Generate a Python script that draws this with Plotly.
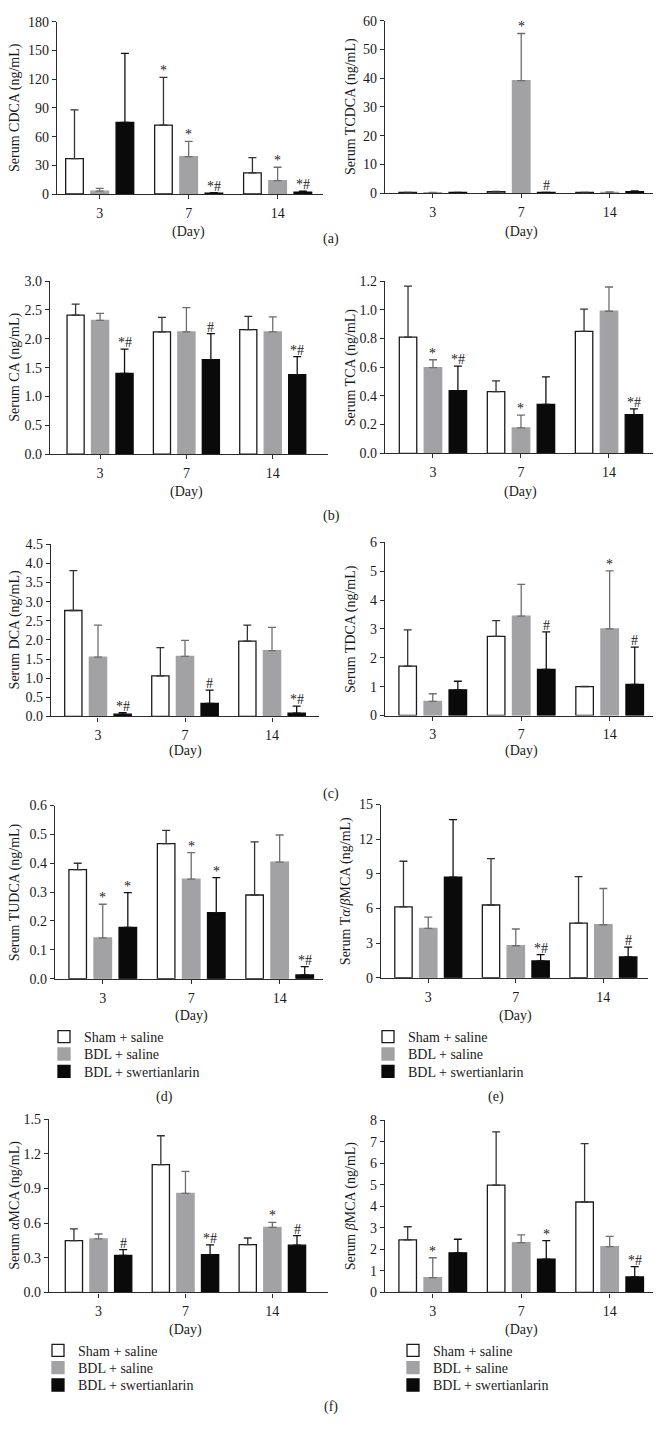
import plotly.graph_objects as go

W, H = 662, 1432

days = ["3", "7", "14"]
groups = ["Sham + saline", "BDL + saline", "BDL + swertianlarin"]

# ---- (a) CDCA ----
cdca_sham = [37, 72, 22];        cdca_sham_sd = [51, 50, 16]
cdca_bdl = [3, 39, 14];          cdca_bdl_sd = [3, 16, 14]
cdca_swe = [75, 1, 2];           cdca_swe_sd = [72, 0.5, 1]
cdca_sig = [["", "*", ""], ["", "*", "*"], ["", "*#", "*#"]]

# ---- (a) TCDCA ----
tcdca_sham = [0.2, 0.5, 0.2];    tcdca_sham_sd = [0.05, 0.1, 0.05]
tcdca_bdl = [0.15, 39.2, 0.2];   tcdca_bdl_sd = [0.1, 16.4, 0.2]
tcdca_swe = [0.2, 0.2, 0.5];     tcdca_swe_sd = [0.05, 0.05, 0.2]
tcdca_sig = [["", "", ""], ["", "*", ""], ["", "#", ""]]

# ---- (b) CA ----
ca_sham = [2.41, 2.12, 2.16];    ca_sham_sd = [0.19, 0.25, 0.23]
ca_bdl = [2.32, 2.12, 2.12];     ca_bdl_sd = [0.12, 0.42, 0.26]
ca_swe = [1.40, 1.64, 1.38];     ca_swe_sd = [0.42, 0.45, 0.31]
ca_sig = [["", "", ""], ["", "", ""], ["*#", "#", "*#"]]

# ---- (b) TCA ----
tca_sham = [0.81, 0.43, 0.85];   tca_sham_sd = [0.355, 0.075, 0.155]
tca_bdl = [0.597, 0.177, 0.99];  tca_bdl_sd = [0.055, 0.089, 0.169]
tca_swe = [0.436, 0.34, 0.27];   tca_swe_sd = [0.171, 0.192, 0.04]
tca_sig = [["", "", ""], ["*", "*", ""], ["*#", "", "*#"]]

# ---- (c) DCA ----
dca_sham = [2.77, 1.06, 1.97];   dca_sham_sd = [1.04, 0.74, 0.42]
dca_bdl = [1.55, 1.57, 1.72];    dca_bdl_sd = [0.84, 0.42, 0.61]
dca_swe = [0.06, 0.345, 0.087];  dca_swe_sd = [0.04, 0.345, 0.183]
dca_sig = [["", "", ""], ["", "", ""], ["*#", "#", "*#"]]

# ---- (c) TDCA ----
tdca_sham = [1.71, 2.74, 1.0];   tdca_sham_sd = [1.26, 0.55, 0.01]
tdca_bdl = [0.49, 3.44, 3.0];    tdca_bdl_sd = [0.263, 1.10, 2.01]
tdca_swe = [0.89, 1.6, 1.08];    tdca_swe_sd = [0.297, 1.3, 1.29]
tdca_sig = [["", "", ""], ["", "", "*"], ["", "#", "#"]]

# ---- (d) TUDCA ----
tudca_sham = [0.378, 0.468, 0.29];  tudca_sham_sd = [0.022, 0.046, 0.184]
tudca_bdl = [0.1415, 0.345, 0.404]; tudca_bdl_sd = [0.1165, 0.092, 0.094]
tudca_swe = [0.178, 0.229, 0.013];  tudca_swe_sd = [0.12, 0.121, 0.029]
tudca_sig = [["", "", ""], ["*", "*", ""], ["*", "*", "*#"]]

# ---- (e) Talpha/betaMCA ----
tmca_sham = [6.13, 6.3, 4.73];   tmca_sham_sd = [3.96, 4.02, 4.02]
tmca_bdl = [4.28, 2.77, 4.59];   tmca_bdl_sd = [0.97, 1.45, 3.14]
tmca_swe = [8.72, 1.45, 1.8];    tmca_swe_sd = [4.98, 0.55, 0.85]
tmca_sig = [["", "", ""], ["", "", ""], ["", "*#", "#"]]

# ---- (f) alphaMCA ----
amca_sham = [0.449, 1.106, 0.414]; amca_sham_sd = [0.102, 0.251, 0.057]
amca_bdl = [0.463, 0.857, 0.563];  amca_bdl_sd = [0.043, 0.192, 0.043]
amca_swe = [0.32, 0.326, 0.409];   amca_swe_sd = [0.051, 0.085, 0.082]
amca_sig = [["", "", ""], ["", "", "*"], ["#", "*#", "#"]]

# ---- (f) betaMCA ----
bmca_sham = [2.44, 4.98, 4.2];   bmca_sham_sd = [0.61, 2.48, 2.71]
bmca_bdl = [0.69, 2.31, 2.13];   bmca_bdl_sd = [0.92, 0.36, 0.47]
bmca_swe = [1.84, 1.55, 0.72];   bmca_swe_sd = [0.63, 0.86, 0.48]
bmca_sig = [["", "", ""], ["*", "", ""], ["", "*", "*#"]]

FONT = "Liberation Serif"
FS = 14
TXT = "#1a1a1a"
AX = "#2b2b2b"
fills = ["#ffffff", "#a2a2a5", "#0a0a0a"]
lines = ["#1a1a1a", "#a2a2a5", "#0a0a0a"]
errc = ["#333333", "#6e6e6e", "#111111"]
BARGAP = 0.15

# layout geometry (pixels): x-domain, y-domain(top,bottom), x-range, y-title x, (Day) y,
# legend (left x, first row centre y)
panels = [
    dict(m=[cdca_sham, cdca_bdl, cdca_swe], s=[cdca_sham_sd, cdca_bdl_sd, cdca_swe_sd], sig=cdca_sig,
         title="Serum CDCA (ng/mL)", ymax=180, dtick=30, fmt="d",
         xd=(57, 323), yd=(15, 189), xr=(-0.48, 2.51), tx=15, day=227, leg=None),
    dict(m=[tcdca_sham, tcdca_bdl, tcdca_swe], s=[tcdca_sham_sd, tcdca_bdl_sd, tcdca_swe_sd], sig=tcdca_sig,
         title="Serum TCDCA (ng/mL)", ymax=60, dtick=10, fmt="d",
         xd=(385, 653), yd=(14, 188), xr=(-0.54, 2.49), tx=351, day=227, leg=None),
    dict(m=[ca_sham, ca_bdl, ca_swe], s=[ca_sham_sd, ca_bdl_sd, ca_swe_sd], sig=ca_sig,
         title="Serum CA (ng/mL)", ymax=3.0, dtick=0.5, fmt=".1f",
         xd=(50, 328), yd=(277, 452), xr=(-0.58, 2.64), tx=15, day=490, leg=None),
    dict(m=[tca_sham, tca_bdl, tca_swe], s=[tca_sham_sd, tca_bdl_sd, tca_swe_sd], sig=tca_sig,
         title="Serum TCA (ng/mL)", ymax=1.2, dtick=0.2, fmt=".1f",
         xd=(385, 653), yd=(277, 451), xr=(-0.545, 2.5), tx=351, day=490, leg=None),
    dict(m=[dca_sham, dca_bdl, dca_swe], s=[dca_sham_sd, dca_bdl_sd, dca_swe_sd], sig=dca_sig,
         title="Serum DCA (ng/mL)", ymax=4.5, dtick=0.5, fmt=".1f",
         xd=(51, 319), yd=(543, 717), xr=(-0.54, 2.54), tx=15, day=752, leg=None),
    dict(m=[tdca_sham, tdca_bdl, tdca_swe], s=[tdca_sham_sd, tdca_bdl_sd, tdca_swe_sd], sig=tdca_sig,
         title="Serum TDCA (ng/mL)", ymax=6, dtick=1, fmt="d",
         xd=(385, 653), yd=(541, 716), xr=(-0.54, 2.49), tx=351, day=752, leg=None),
    dict(m=[tudca_sham, tudca_bdl, tudca_swe], s=[tudca_sham_sd, tudca_bdl_sd, tudca_swe_sd], sig=tudca_sig,
         title="Serum TUDCA (ng/mL)", ymax=0.6, dtick=0.1, fmt=".1f",
         xd=(55, 323), yd=(807, 982), xr=(-0.54, 2.49), tx=15, day=1020, leg=(44, 1041)),
    dict(m=[tmca_sham, tmca_bdl, tmca_swe], s=[tmca_sham_sd, tmca_bdl_sd, tmca_swe_sd], sig=tmca_sig,
         title="Serum T<i>α</i>/<i>β</i>MCA (ng/mL)", ymax=15, dtick=3, fmt="d",
         xd=(381, 648), yd=(806, 981), xr=(-0.54, 2.51), tx=346, day=1020, leg=(368, 1041)),
    dict(m=[amca_sham, amca_bdl, amca_swe], s=[amca_sham_sd, amca_bdl_sd, amca_swe_sd], sig=amca_sig,
         title="Serum αMCA (ng/mL)", ymax=1.5, dtick=0.3, fmt=".1f",
         xd=(49, 328), yd=(1124, 1299), xr=(-0.57, 2.64), tx=15, day=1337, leg=(38, 1358)),
    dict(m=[bmca_sham, bmca_bdl, bmca_swe], s=[bmca_sham_sd, bmca_bdl_sd, bmca_swe_sd], sig=bmca_sig,
         title="Serum <i>β</i>MCA (ng/mL)", ymax=8, dtick=1, fmt="d",
         xd=(385, 653), yd=(1125, 1299), xr=(-0.54, 2.49), tx=351, day=1337, leg=(393, 1358)),
]
LEG_ROW = 17.5

sublabels = [("(a)", 331, 234), ("(b)", 331, 514), ("(c)", 331, 795),
             ("(d)", 164, 1102), ("(e)", 496, 1102), ("(f)", 331, 1415)]


def px(x):
    return x / W


def py(y):
    return 1 - y / H


fig = go.Figure()
annotations = []
layout = {}
slot = (1 - BARGAP) / 3
legend_count = 0

for k, p in enumerate(panels, start=1):
    xa = "x" if k == 1 else f"x{k}"
    ya = "y" if k == 1 else f"y{k}"
    leg = p["leg"]
    for j in range(3):
        mean = p["m"][j]
        sd = p["s"][j]
        legname = None
        if leg:
            legend_count += 1
            legname = "legend" if legend_count == 1 else f"legend{legend_count}"
            layout[legname] = dict(
                x=px(leg[0]), y=py(leg[1] + j * LEG_ROW), xanchor="left", yanchor="middle",
                bgcolor="rgba(0,0,0,0)", borderwidth=0,
                font=dict(family=FONT, size=FS, color=TXT))
        fig.add_trace(go.Bar(
            x=days, y=mean, name=groups[j], xaxis=xa, yaxis=ya,
            offsetgroup=str(j),
            marker=dict(color=fills[j], line=dict(color=lines[j], width=1.3)),
            error_y=dict(type="data", array=sd, arrayminus=[0] * len(sd), symmetric=False,
                         color=errc[j], thickness=1.3, width=4),
            showlegend=leg is not None,
            legend=legname,
            hoverinfo="skip",
        ))
        for i in range(3):
            mark = p["sig"][j][i]
            if mark:
                annotations.append(dict(
                    x=i + (j - 1) * slot, y=mean[i] + sd[i], xref=xa, yref=ya,
                    text=mark, showarrow=False, yanchor="bottom", xanchor="center",
                    yshift=-3, font=dict(family=FONT, size=FS, color=TXT)))
    ax_common = dict(showline=True, linecolor=AX, linewidth=1.3, ticks="outside",
                     ticklen=4, tickwidth=1.3, tickcolor=AX, showgrid=False, zeroline=False,
                     tickfont=dict(family=FONT, size=FS, color=TXT))
    layout[f"xaxis{'' if k == 1 else k}"] = dict(
        ax_common, type="category", domain=[px(p["xd"][0]), px(p["xd"][1])],
        range=list(p["xr"]), anchor=ya, ticklabelstandoff=2)
    layout[f"yaxis{'' if k == 1 else k}"] = dict(
        ax_common, domain=[py(p["yd"][1]), py(p["yd"][0])], range=[0, p["ymax"]],
        dtick=p["dtick"], tick0=0, tickformat=p["fmt"], anchor=xa)
    # y-axis title
    annotations.append(dict(
        x=px(p["tx"]), y=py((p["yd"][0] + p["yd"][1]) / 2), xref="paper", yref="paper",
        text=p["title"], textangle=-90, showarrow=False, xanchor="center", yanchor="middle",
        font=dict(family=FONT, size=FS, color=TXT)))
    # x-axis title
    x3 = p["xd"][0] + (0 - p["xr"][0]) / (p["xr"][1] - p["xr"][0]) * (p["xd"][1] - p["xd"][0])
    x14 = p["xd"][0] + (2 - p["xr"][0]) / (p["xr"][1] - p["xr"][0]) * (p["xd"][1] - p["xd"][0])
    annotations.append(dict(
        x=px((x3 + x14) / 2), y=py(p["day"]), xref="paper", yref="paper",
        text="(Day)", showarrow=False, xanchor="center", yanchor="middle",
        font=dict(family=FONT, size=FS, color=TXT)))

for t, x, y in sublabels:
    annotations.append(dict(x=px(x), y=py(y), xref="paper", yref="paper", text=t,
                            showarrow=False, xanchor="center", yanchor="middle",
                            font=dict(family=FONT, size=FS, color=TXT)))

fig.update_layout(
    width=W, height=H, margin=dict(l=0, r=0, t=0, b=0),
    paper_bgcolor="white", plot_bgcolor="white",
    barmode="group", bargap=BARGAP, bargroupgap=0.3,
    font=dict(family=FONT, size=FS, color=TXT),
    annotations=annotations,
    **layout,
)

fig.write_html("out.html", post_script="document.body.style.margin='0';",
               config={"displayModeBar": False})
